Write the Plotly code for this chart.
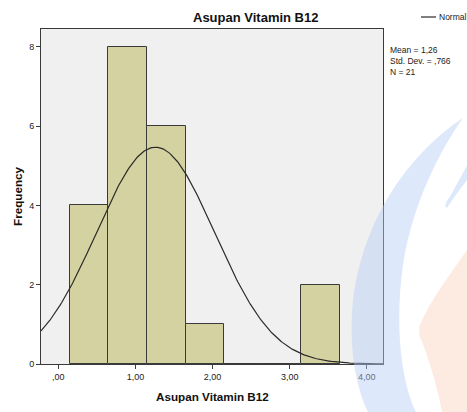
import numpy as np
import plotly.graph_objects as go

# ---- data ----
bin_edges = [0.15, 0.65, 1.15, 1.65, 2.15, 2.65, 3.15, 3.65]
counts = [4, 8, 6, 1, 0, 0, 2]
mean_val = 1.26
sd_val = 0.766
n_val = 21
x_tickvals = [0, 1, 2, 3, 4]
x_ticktext = [",00", "1,00", "2,00", "3,00", "4,00"]
y_tickvals = [0, 2, 4, 6, 8]
y_ticktext = ["0", "2", "4", "6", "8"]
title_text = "Asupan Vitamin B12"
x_title = "Asupan Vitamin B12"
y_title = "Frequency"
stats_lines = ["Mean = 1,26", "Std. Dev. = ,766", "N = 21"]
legend_label = "Normal"

centers = [(bin_edges[i] + bin_edges[i + 1]) / 2 for i in range(len(counts))]
width = bin_edges[1] - bin_edges[0]

x_range = [-0.225, 4.21]
y_range = [0, 8.45]

# fitted normal curve scaled to counts
xs = np.linspace(x_range[0], x_range[1], 300)
ys = n_val * width / (sd_val * np.sqrt(2 * np.pi)) * np.exp(-0.5 * ((xs - mean_val) / sd_val) ** 2)

FONT = "Liberation Sans, Arial, sans-serif"
DARK = "#3a3a3a"

# plot-area pixel box
L, R, T, B = 41, 383, 29, 364
PW, PH = R - L, B - T


def px(x, y):
    return f"{(x - L) / PW:.4f},{(B - y) / PH:.4f}"


def path(cmds):
    out = []
    for c in cmds:
        if isinstance(c, str):
            out.append(c)
        else:
            out.append(px(*c))
    return " ".join(out)


fig = go.Figure()

# watermark-like background decorations
blue_path = path(["M", (463, 118), "C", (415, 150), (365, 210), (353, 300),
                  "C", (348, 350), (357, 390), (368, 412), "L", (416, 412),
                  "C", (400, 380), (395, 320), (403, 265),
                  "C", (412, 205), (440, 150), (463, 118), "Z"])
spike_path = path(["M", (467, 166), "L", (467, 180), "C", (458, 192), (452, 200), (447, 208),
                   "C", (444, 206), (446, 202), (449, 198), "C", (455, 188), (461, 176), (467, 166), "Z"])
peach_path = path(["M", (467, 250), "C", (450, 275), (430, 300), (420, 325),
                   "C", (417, 335), (422, 340), (425, 350),
                   "C", (432, 370), (438, 390), (442, 412), "L", (467, 412), "Z"])

fig.add_trace(go.Bar(
    x=centers, y=counts, width=width,
    marker=dict(color="#D5D2A1", line=dict(color=DARK, width=1)),
    showlegend=False, hoverinfo="skip",
))
fig.add_trace(go.Scatter(
    x=xs, y=ys, mode="lines", line=dict(color="#2a2a2a", width=1.2),
    showlegend=False, hoverinfo="skip",
))

fig.update_layout(
    width=467, height=412,
    margin=dict(l=L, r=467 - R, t=T, b=412 - B, autoexpand=False),
    paper_bgcolor="white", plot_bgcolor="#F0F0F0",
    bargap=0,
    font=dict(family=FONT, color="#222", size=10),
    xaxis=dict(range=x_range, tickvals=x_tickvals, ticktext=x_ticktext, ticks="outside",
               ticklen=4, tickcolor=DARK, showgrid=False, zeroline=False, showline=True,
               linecolor=DARK, linewidth=1, mirror=True, tickfont=dict(size=9, color="#222"),
               automargin=False),
    yaxis=dict(range=y_range, tickvals=y_tickvals, ticktext=y_ticktext, ticks="outside",
               ticklen=4, tickcolor=DARK, showgrid=False, zeroline=False, showline=True,
               linecolor=DARK, linewidth=1, mirror=True, tickfont=dict(size=9, color="#222"),
               automargin=False),
)

for p, col in [(blue_path, "rgba(180,205,245,0.45)"), (spike_path, "rgba(180,205,245,0.45)"),
               (peach_path, "rgba(250,190,160,0.3)")]:
    fig.add_shape(type="path", path=p, xref="paper", yref="paper",
                  fillcolor=col, line=dict(width=0), layer="above")

# titles as annotations (pixel-placed)
fig.add_annotation(text="<b>" + title_text + "</b>", xref="paper", yref="paper",
                   x=(255 - L) / PW, y=(B - 17) / PH, xanchor="center", yanchor="middle",
                   showarrow=False, font=dict(size=13, color="#111"))
fig.add_annotation(text="<b>" + x_title + "</b>", xref="paper", yref="paper",
                   x=(212 - L) / PW, y=(B - 396) / PH, xanchor="center", yanchor="middle",
                   showarrow=False, font=dict(size=11.7, color="#111"))
fig.add_annotation(text="<b>" + y_title + "</b>", xref="paper", yref="paper",
                   x=(17 - L) / PW, y=(B - 196) / PH, xanchor="center", yanchor="middle",
                   textangle=-90, showarrow=False, font=dict(size=11.7, color="#111"))

# legend line + label
fig.add_shape(type="line", xref="paper", yref="paper",
              x0=(421 - L) / PW, x1=(436 - L) / PW, y0=(B - 17) / PH, y1=(B - 17) / PH,
              line=dict(color="#2a2a2a", width=1.2))
fig.add_annotation(text=legend_label, xref="paper", yref="paper", x=(437 - L) / PW, y=(B - 17) / PH,
                   xanchor="left", yanchor="middle", showarrow=False, font=dict(size=8.5, color="#222"))
fig.add_annotation(text="<br>".join(stats_lines), xref="paper", yref="paper", x=(388 - L) / PW,
                   y=(B - 61) / PH, xanchor="left", yanchor="middle", align="left",
                   showarrow=False, font=dict(size=8.5, color="#222"))

fig.write_html("out.html", config={"displayModeBar": False},
               post_script="document.body.style.margin='0';document.body.style.overflow='hidden';")
